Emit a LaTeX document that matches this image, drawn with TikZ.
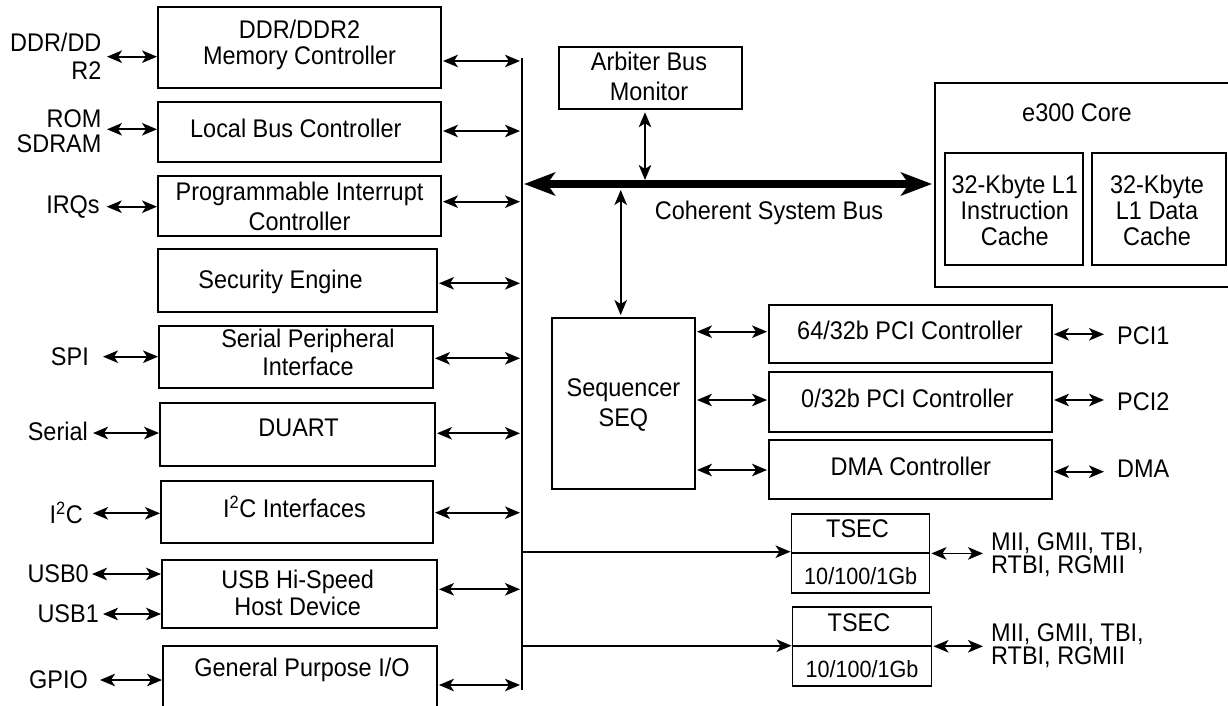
\documentclass[tikz,border=0pt]{standalone}
\usepackage{fontspec}
\setmainfont{Liberation Sans}[FakeStretch=0.92]
\usetikzlibrary{arrows.meta}
\newcommand\fs{\fontsize{25.5}{27}\selectfont}
\begin{document}
\begin{tikzpicture}[x=1pt,y=-1pt,
  box/.style={draw,line width=1.9pt,inner sep=0pt,rectangle},
  txt/.style={font=\fs,align=center,inner sep=0pt},
  lbl/.style={font=\fs,align=right,inner sep=0pt,anchor=east},
  tip/.tip={Stealth[length=15pt,width=12.5pt,inset=4pt]},
  dbl/.style={line width=1.8pt,tip-tip},
  one/.style={line width=1.8pt,-tip},
  cbus/.style={line width=8pt,{Stealth[length=31pt,width=23pt,inset=8pt]}-{Stealth[length=31pt,width=23pt,inset=8pt]}}]
\clip (0,0) rectangle (1228,706);
\fill[white] (0,0) rectangle (1228,706);

% ---- left column boxes
\node[box,minimum width=283pt,minimum height=81pt] (ddr) at (299.5,47.5) {};
\node[txt,font=\fontsize{25.5}{26.6}\selectfont] (ddrT) at (299.5,45) {DDR/DDR2\\Memory Controller};
\node[box,minimum width=283pt,minimum height=60pt] (lbc) at (299.5,132) {};
\node[txt] (lbcT) at (295.8,128.3) {Local Bus Controller};
\node[box,minimum width=283pt,minimum height=60pt] (pic) at (299.5,206) {};
\node[txt,font=\fontsize{25.5}{30}\selectfont] (picT) at (299.5,206.7) {Programmable Interrupt\\Controller};
\node[box,minimum width=279pt,minimum height=62.5pt] (sec) at (297.5,280.5) {};
\node[txt] (secT) at (280.6,281.7) {Security Engine};
\node[box,minimum width=274pt,minimum height=62pt] (spi) at (296,357) {};
\node[txt,font=\fontsize{25.5}{28.4}\selectfont] (spiT) at (308,352.5) {Serial Peripheral\\Interface};
\node[box,minimum width=275pt,minimum height=63pt] (duart) at (297.5,434.5) {};
\node[txt] (duartT) at (298.6,428.3) {DUART};
\node[box,minimum width=272pt,minimum height=62pt] (i2c) at (297,512) {};
\node[txt] (i2cT) at (294.5,506.7) {I\textsuperscript{2}C Interfaces};
\node[box,minimum width=275pt,minimum height=68pt] (usb) at (299.5,594) {};
\node[txt,font=\fontsize{25.5}{27.4}\selectfont] (usbT) at (297.7,593) {USB Hi-Speed\\Host Device};
\node[box,minimum width=274pt,minimum height=90pt] (gpio) at (300,691) {};
\node[txt] (gpioT) at (302,670) {General Purpose I/O};

% ---- left labels
\node[lbl,font=\fontsize{25.5}{27.3}\selectfont] (ddrL) at (101.6,56.4) {DDR/DD\\R2};
\node[lbl,font=\fontsize{25.5}{25}\selectfont] (lbcL) at (101.6,130.8) {ROM\\SDRAM};
\node[lbl] (irqL) at (99.9,206.7) {IRQs};
\node[lbl] (spiL) at (89,356.7) {SPI};
\node[lbl] (serL) at (88,431.7) {Serial};
\node[lbl] (i2cL) at (83,513.3) {I\textsuperscript{2}C};
\node[lbl] (usb0L) at (89,574) {USB0};
\node[lbl] (usb1L) at (99,613.3) {USB1};
\node[lbl] (gpioL) at (88,679.3) {GPIO};

\coordinate (p1) at (107,56.7);   \draw[dbl] (p1) -- (p1 -| ddr.west);
\coordinate (p2) at (107,129.3);  \draw[dbl] (p2) -- (p2 -| lbc.west);
\coordinate (p3) at (106.7,206.7);\draw[dbl] (p3) -- (p3 -| pic.west);
\coordinate (p5) at (103,356.7);  \draw[dbl] (p5) -- (p5 -| spi.west);
\coordinate (p6) at (93,433);     \draw[dbl] (p6) -- (p6 -| duart.west);
\coordinate (p7) at (93,513.3);   \draw[dbl] (p7) -- (p7 -| i2c.west);
\coordinate (p8) at (92,574);     \draw[dbl] (p8) -- (p8 -| usb.west);
\coordinate (p9) at (103,614);    \draw[dbl] (p9) -- (p9 -| usb.west);
\coordinate (p10) at (100,680);   \draw[dbl] (p10) -- (p10 -| gpio.west);

% ---- vertical bus
\coordinate (bt) at (522,58);
\coordinate (bb) at (522,690);
\draw[line width=2.6pt] (bt) -- (bb);
\foreach \n/\b/\yy in {q1/ddr/61,q2/lbc/131,q3/pic/201.7,q4/sec/283.3,q5/spi/358.3,q6/duart/433.3,q7/i2c/512.7,q8/usb/589.3,q9/gpio/685}{
  \coordinate (\n) at (0,\yy);
  \draw[dbl,shorten <=1pt,shorten >=2pt] (\n -| \b.east) -- (\n -| bt);
}

% ---- arbiter and coherent bus
\node[box,minimum width=183pt,minimum height=62.6pt] (arb) at (650.5,78) {};
\node[txt,font=\fontsize{25.5}{30}\selectfont] (arbT) at (649,76.7) {Arbiter Bus\\Monitor};
\node[box,minimum width=297pt,minimum height=204pt] (e300) at (1083.5,184.7) {};
\node[txt] (e300T) at (1077,113) {e300 Core};
\node[box,minimum width=138pt,minimum height=112pt] (ic) at (1014,209) {};
\node[txt,font=\fontsize{25.5}{25.8}\selectfont] (icT) at (1014.8,210.5) {32-Kbyte L1\\Instruction\\Cache};
\node[box,minimum width=134pt,minimum height=112pt] (dc) at (1159,209) {};
\node[txt,font=\fontsize{25.5}{25.8}\selectfont] (dcT) at (1157,210.5) {32-Kbyte\\L1 Data\\Cache};

\coordinate (cbL) at (524,184);
\draw[cbus,shorten >=2pt] (cbL) -- (cbL -| e300.west);
\node[txt] (cbT) at (769,213.3) {Coherent System Bus};

\coordinate (a1) at (645,180);
\draw[dbl,shorten <=2pt] (arb.south -| a1) -- (a1);

% ---- sequencer and PCI
\node[box,minimum width=143pt,minimum height=171pt] (seq) at (623.5,403.5) {};
\node[txt,font=\fontsize{25.5}{30}\selectfont] (seqT) at (623.4,405) {Sequencer\\SEQ};
\coordinate (a2) at (620.7,190);
\draw[dbl,shorten >=2pt] (a2) -- (a2 |- seq.north);

\node[box,minimum width=283pt,minimum height=58pt] (pci1) at (910.5,334) {};
\node[txt] (pci1T) at (910,330) {64/32b PCI Controller};
\node[box,minimum width=283pt,minimum height=60pt] (pci2) at (910.5,402) {};
\node[txt] (pci2T) at (907.5,398.3) {0/32b PCI Controller};
\node[box,minimum width=283pt,minimum height=59pt] (dma) at (910.5,469.5) {};
\node[txt] (dmaT) at (910.8,466.7) {DMA Controller};

\foreach \n/\b/\yy in {s1/pci1/331.7,s2/pci2/400,s3/dma/470}{
  \coordinate (\n) at (0,\yy);
  \draw[dbl,shorten <=1pt,shorten >=1pt] (\n -| seq.east) -- (\n -| \b.west);
}
\node[txt,anchor=west] (pci1L) at (1117,336) {PCI1};
\node[txt,anchor=west] (pci2L) at (1117,401.7) {PCI2};
\node[txt,anchor=west] (dmaL) at (1117,468.3) {DMA};
\coordinate (r1) at (1104,334.3); \draw[dbl,shorten <=1pt] (r1 -| pci1.east) -- (r1);
\coordinate (r2) at (1104,400);   \draw[dbl,shorten <=1pt] (r2 -| pci2.east) -- (r2);
\coordinate (r3) at (1104,471.7); \draw[dbl,shorten <=1pt] (r3 -| dma.east) -- (r3);

% ---- TSEC
\node[box,minimum width=138pt,minimum height=78.7pt] (t1) at (860.5,553.4) {};
\draw[line width=1.9pt] (t1.west) -- (t1.east);
\node[txt] (t1a) at (857.5,528.3) {TSEC};
\node[txt,font=\fontsize{23.5}{24}\selectfont] (t1b) at (860.7,576) {10/100/1Gb};
\node[box,minimum width=139pt,minimum height=79.3pt] (t2) at (862,646.3) {};
\draw[line width=1.9pt] (t2.west) -- (t2.east);
\node[txt] (t2a) at (859,622.7) {TSEC};
\node[txt,font=\fontsize{23.5}{24}\selectfont] (t2b) at (862,669.3) {10/100/1Gb};

\coordinate (u1) at (522,551.7); \draw[one] (u1) -- (u1 -| t1.west);
\coordinate (u2) at (522,645.7); \draw[one] (u2) -- (u2 -| t2.west);
\coordinate (m1) at (983,553.4); \draw[dbl,shorten <=1pt] (t1.east) -- (m1);
\coordinate (m2) at (983,646.3); \draw[dbl,shorten <=1pt] (t2.east) -- (m2);
\node[txt,anchor=west,align=left,font=\fontsize{25.5}{23.4}\selectfont] (mii1) at (991,555) {MII, GMII, TBI,\\RTBI, RGMII};
\node[txt,anchor=west,align=left,font=\fontsize{25.5}{23.4}\selectfont] (mii2) at (991,645.8) {MII, GMII, TBI,\\RTBI, RGMII};
\end{tikzpicture}
\end{document}
